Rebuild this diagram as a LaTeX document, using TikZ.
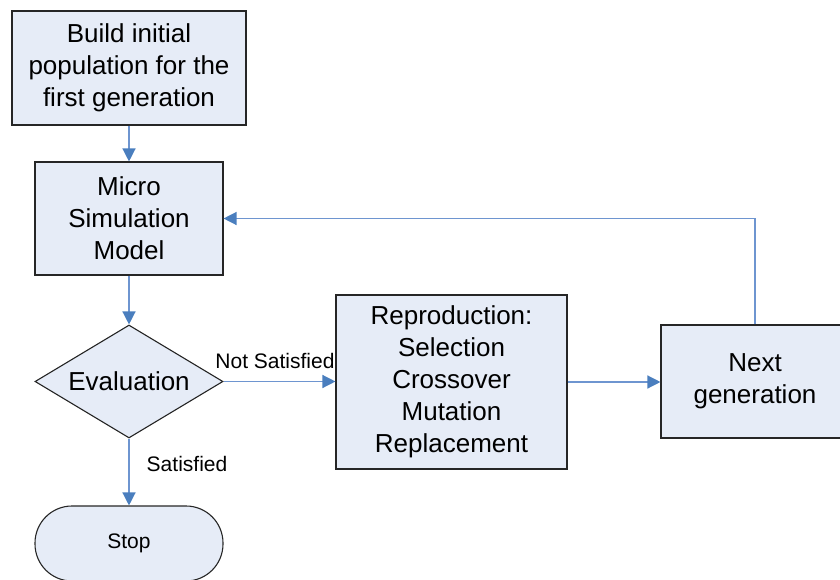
\documentclass[tikz,border=0pt]{standalone}
\usepackage{fontspec}
\setmainfont{Liberation Sans}
\usetikzlibrary{shapes.geometric,arrows.meta}
\definecolor{boxfill}{HTML}{E6ECF7}
\definecolor{boxline}{HTML}{262626}
\definecolor{linkline}{HTML}{6E95D0}
\definecolor{tipblue}{HTML}{4A7EBE}
\tikzset{
  procbox/.style={draw=boxline, fill=boxfill, line width=1.1pt, align=center,
    inner sep=0pt, font=\fontsize{26}{32}\selectfont},
  decision/.style={procbox, diamond, aspect=1.66},
  terminal/.style={procbox, rounded corners=37pt, font=\fontsize{21}{25}\selectfont},
  link/.style={draw=linkline, line width=1.3pt,
    -{Triangle[color=tipblue, width=13pt, length=13pt]}},
  linklabel/.style={font=\fontsize{21}{25}\selectfont, inner sep=0pt}
}
\begin{document}
\begin{tikzpicture}[x=1pt, y=-1pt]
  \path[use as bounding box, clip] (0,0) rectangle (840,580);

  % process steps
  \node[procbox, minimum width=234pt, minimum height=114pt] (build) at (129,68)
    {Build initial\\population for the\\first generation};
  \node[procbox, minimum width=188pt, minimum height=113pt] (micro) at (129,218.5)
    {Micro\\Simulation\\Model};
  \node[decision, minimum width=188pt, minimum height=113pt] (eval) at (129,381.5)
    {Evaluation};
  \node[terminal, minimum width=188pt, minimum height=75pt] (stop) at (129,543.5)
    {Stop};
  \node[procbox, minimum width=231pt, minimum height=174pt] (repro) at (451.5,382)
    {Reproduction:\\Selection\\Crossover\\Mutation\\Replacement};
  \node[procbox, minimum width=188pt, minimum height=113pt] (next) at (755,381.5)
    {Next\\generation};

  % connectors
  \draw[link] (build.south) -- (micro.north);
  \draw[link] (micro.south) -- (eval.north);
  \draw[link] (eval.east) -- (eval.east -| repro.west);
  \draw[link] (eval.south) -- (stop.north);
  \draw[link] (repro.east) -- (repro.east -| next.west);
  \draw[link] (next.north) |- (micro.east);

  % branch labels
  \node[linklabel] (notsat) at (275,361) {Not Satisfied};
  \node[linklabel] (sat) at (187,464) {Satisfied};
\end{tikzpicture}
\end{document}
